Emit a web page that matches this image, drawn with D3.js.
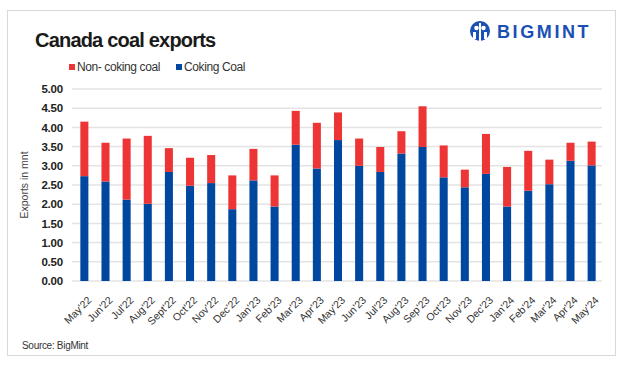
<!DOCTYPE html>
<html>
<head>
<meta charset="utf-8">
<script src="https://cdn.jsdelivr.net/npm/d3@7"></script>
<style>
  body { margin: 0; background: #fff; }
  svg { display: block; }
</style>
</head>
<body>
<svg id="chart"></svg>
<script>
const months = ["May'22","Jun'22","Jul'22","Aug'22","Sept'22","Oct'22","Nov'22","Dec'22","Jan'23","Feb'23",
  "Mar'23","Apr'23","May'23","Jun'23","Jul'23","Aug'23","Sep'23","Oct'23","Nov'23","Dec'23",
  "Jan'24","Feb'24","Mar'24","Apr'24","May'24"];
const coking = [2.73,2.59,2.12,2.01,2.84,2.48,2.55,1.87,2.62,1.94,
  3.55,2.93,3.67,3.00,2.84,3.32,3.49,2.70,2.44,2.79,
  1.94,2.35,2.52,3.13,3.01];
const totals = [4.15,3.60,3.71,3.78,3.46,3.21,3.28,2.75,3.44,2.75,
  4.43,4.12,4.39,3.71,3.49,3.90,4.55,3.53,2.90,3.83,
  2.97,3.39,3.16,3.60,3.63];
const nonCoking = totals.map((t, i) => +(t - coking[i]).toFixed(2));
const yTicks = [0,0.5,1,1.5,2,2.5,3,3.5,4,4.5,5];
const seriesNames = ["Non- coking coal", "Coking Coal"];
const colors = {"Coking Coal": "#0047a0", "Non- coking coal": "#ee3535"};

const width = 625, height = 368;
const margin = {top: 89, right: 23, bottom: 87, left: 74};

const svg = d3.select('#chart')
    .attr('width', width)
    .attr('height', height)
    .style('font-family', 'Arial, "Liberation Sans", sans-serif');

// frame
svg.append('rect')
    .attr('x', 7.5).attr('y', 10.5)
    .attr('width', 608).attr('height', 345)
    .attr('fill', 'none')
    .attr('stroke', '#d9d9d9');

svg.append('text')
    .attr('x', 35).attr('y', 47)
    .attr('font-size', 20)
    .attr('font-weight', 'bold')
    .attr('fill', '#1a1a1a')
    .attr('letter-spacing', -0.8)
    .text('Canada coal exports');

// logo
const logo = svg.append('g').attr('transform', 'translate(480,31)');
logo.append('circle').attr('r', 10).attr('fill', '#1a4fb5');
logo.append('circle').attr('cx', -3.5).attr('cy', -3).attr('r', 2.3).attr('fill', '#fff');
logo.append('circle').attr('cx', 3.5).attr('cy', -3).attr('r', 2.3).attr('fill', '#fff');
logo.append('rect').attr('x', -1).attr('y', -8).attr('width', 2).attr('height', 18).attr('fill', '#fff');
logo.append('rect').attr('x', -7).attr('y', 1).attr('width', 3).attr('height', 7).attr('fill', '#fff');
logo.append('rect').attr('x', 4).attr('y', 1).attr('width', 3).attr('height', 7).attr('fill', '#fff');
svg.append('text')
    .attr('x', 497).attr('y', 38)
    .attr('font-size', 18)
    .attr('font-weight', 'bold')
    .attr('letter-spacing', 2.6)
    .attr('fill', '#1a4fb5')
    .text('BIGMINT');

// legend
const legend = svg.append('g').attr('transform', 'translate(69,68)');
const legX = [0, 107];
seriesNames.forEach((s, i) => {
    legend.append('rect')
        .attr('x', legX[i]).attr('y', -4)
        .attr('width', 6).attr('height', 6)
        .attr('fill', colors[s]);
    legend.append('text')
        .attr('x', legX[i] + 8).attr('y', 3)
        .attr('font-size', 12)
        .attr('fill', '#333')
        .attr('letter-spacing', -0.4)
        .text(s);
});

const x = d3.scaleBand()
    .domain(months)
    .range([margin.left, width - margin.right])
    .paddingInner(0.62)
    .paddingOuter(0.3);

const y = d3.scaleLinear()
    .domain([0, 5])
    .range([height - margin.bottom, margin.top]);

// gridlines
svg.append('g')
    .selectAll('line')
    .data(yTicks)
    .join('line')
    .attr('x1', 72).attr('x2', width - margin.right)
    .attr('y1', d => y(d)).attr('y2', d => y(d))
    .attr('stroke', '#e3e3e3')
    .attr('stroke-width', 1.5);

const yAxis = svg.append('g')
    .attr('transform', `translate(72,0)`)
    .call(d3.axisLeft(y).tickValues(yTicks).tickFormat(d3.format('.2f')).tickSize(0).tickPadding(9));
yAxis.select('.domain').remove();
yAxis.selectAll('text')
    .attr('font-size', 11.5)
    .attr('font-weight', 'bold')
    .attr('fill', '#222')
    .attr('letter-spacing', -0.2)
    .style('font-family', 'Arial, "Liberation Sans", sans-serif');

svg.append('text')
    .attr('transform', `translate(28,${y(2.5)}) rotate(-90)`)
    .attr('text-anchor', 'middle')
    .attr('font-size', 10.5)
    .attr('fill', '#444')
    .text('Exports in mnt');

// stacked bars
const rows = months.map((m, i) => ({month: m, "Coking Coal": coking[i], "Non- coking coal": nonCoking[i]}));
const stack = d3.stack().keys(["Coking Coal", "Non- coking coal"])(rows);

svg.append('g')
    .selectAll('g')
    .data(stack)
    .join('g')
    .attr('fill', d => colors[d.key])
    .selectAll('rect')
    .data(d => d)
    .join('rect')
    .attr('x', d => x(d.data.month))
    .attr('y', d => y(d[1]))
    .attr('width', x.bandwidth())
    .attr('height', d => y(d[0]) - y(d[1]));

const xAxis = svg.append('g')
    .attr('transform', `translate(0,${height - margin.bottom})`)
    .call(d3.axisBottom(x).tickSize(0).tickPadding(6));
xAxis.select('.domain').remove();
xAxis.selectAll('text')
    .attr('font-size', 10.5)
    .attr('fill', '#333')
    .attr('text-anchor', 'end')
    .attr('dy', '0.35em')
    .attr('transform', 'translate(1,13) rotate(-45)')
    .style('font-family', 'Arial, "Liberation Sans", sans-serif');

svg.append('text')
    .attr('x', 22).attr('y', 349)
    .attr('font-size', 10)
    .attr('fill', '#333')
    .attr('letter-spacing', -0.3)
    .text('Source: BigMint');
</script>
</body>
</html>
